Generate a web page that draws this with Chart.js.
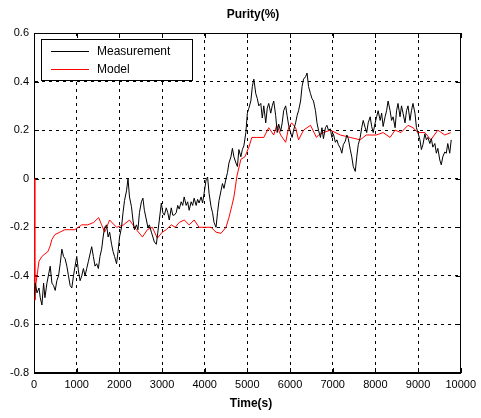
<!DOCTYPE html>
<html>
<head>
<meta charset="utf-8">
<script src="https://cdn.jsdelivr.net/npm/chart.js@4.4.1/dist/chart.umd.min.js"></script>
<style>
html,body{margin:0;padding:0;background:#fff;}
#wrap{width:481px;height:418px;position:relative;}
</style>
</head>
<body>
<div id="wrap"><canvas id="c" width="481" height="418"></canvas></div>
<script>
// ---- Data ----
const chartTitle = "Purity(%)";
const xTitle = "Time(s)";
const xTicks = [0,1000,2000,3000,4000,5000,6000,7000,8000,9000,10000];
const yTicks = [-0.8,-0.6,-0.4,-0.2,0,0.2,0.4,0.6];
const yTickLabels = ["-0.8","-0.6","-0.4","-0.2","0","0.2","0.4","0.6"];

const measTime = [0,30,70,117,147,186,225,256,303,380,420,458,497,536,575,614,653,692,730,770,808,847,886,925,963,1002,1041,1080,1119,1158,1197,1235,1275,1313,1352,1391,1430,1469,1508,1546,
1585,1620,1655,1700,1737,1772,1818,1853,1888,1935,1970,2005,2051,2086,2121,2168,2203,2238,2284,2319,2354,2401,2436,2471,2517,2552,2587,2634,2669,2704,2751,2786,2820,2867,2902,2937,2984,3019,3054,3100,3135,3170,3217,3252,3287,
3333,3368,3403,3450,3485,3520,3566,3601,3636,3683,3718,3753,3800,3834,3869,3916,3951,3986,4033,4068,4103,4149,4184,4219,4266,4301,4336,4382,4417,4452,4499,4534,4569,4615,4650,4685,4732,4767,4802,4848,4883,4918,
4965,5000,5035,5082,5117,5152,5198,5233,5268,5315,5350,5385,5431,5466,5501,5548,5583,5618,5664,5699,5734,5781,5816,5851,5898,5932,5967,6014,6049,6084,6131,6166,6200,6247,6282,6317,6364,6399,6434,6480,6515,6550,6597,6632,
6667,6713,6748,6783,6830,6865,6900,6946,6981,7016,7063,7098,7133,7179,7214,7249,7296,7331,7366,7412,7447,7482,7529,7564,7599,7645,7680,7715,7762,7797,7832,7879,7914,7949,7995,8030,8065,8112,8147,8182,8228,8263,8298,8345,8380,
8415,8462,8497,8531,8578,8613,8648,8695,8730,8765,8811,8846,8881,8928,8963,8998,9044,9079,9114,9161,9196,9231,9277,9312,9347,9394,9429,9464,9510,9545,9580,9627,9662,9697,9743,9778];
const measValue = [-0.50,-0.43,-0.47,-0.45,-0.49,-0.52,-0.43,-0.49,-0.43,-0.36,-0.43,-0.44,-0.46,-0.42,-0.40,-0.35,-0.29,-0.32,-0.33,-0.36,-0.40,-0.44,-0.45,-0.40,-0.36,-0.32,-0.38,-0.42,-0.40,-0.37,-0.40,-0.37,-0.34,-0.31,-0.28,-0.32,-0.36,-0.35,-0.37,-0.32,
-0.29,-0.24,-0.20,-0.19,-0.24,-0.22,-0.27,-0.30,-0.32,-0.35,-0.30,-0.24,-0.20,-0.14,-0.09,-0.05,0.00,-0.075,-0.115,-0.17,-0.21,-0.19,-0.21,-0.14,-0.095,-0.08,-0.13,-0.17,-0.20,-0.19,-0.22,-0.24,-0.26,-0.27,-0.22,-0.17,-0.10,-0.14,-0.15,-0.12,-0.14,-0.17,-0.12,-0.15,-0.15,
-0.14,-0.11,-0.125,-0.095,-0.11,-0.075,-0.11,-0.095,-0.13,-0.095,-0.11,-0.08,-0.11,-0.085,-0.10,-0.075,-0.10,-0.06,-0.005,0.007,-0.06,-0.115,-0.14,-0.18,-0.20,-0.14,-0.09,-0.05,-0.02,-0.04,0.00,0.025,0.065,0.09,0.125,0.09,0.065,0.05,0.12,0.09,0.12,0.135,
0.19,0.27,0.29,0.32,0.38,0.41,0.35,0.33,0.30,0.31,0.25,0.30,0.23,0.29,0.31,0.27,0.30,0.32,0.26,0.19,0.225,0.195,0.23,0.28,0.30,0.26,0.22,0.19,0.17,0.20,0.23,0.26,0.28,0.32,0.38,0.41,0.42,0.435,0.38,0.35,0.33,0.32,0.28,0.23,
0.20,0.17,0.21,0.165,0.21,0.22,0.20,0.205,0.17,0.185,0.15,0.16,0.14,0.126,0.105,0.14,0.155,0.18,0.165,0.12,0.09,0.05,0.03,0.09,0.14,0.17,0.21,0.24,0.21,0.19,0.23,0.255,0.215,0.19,0.23,0.255,0.28,0.24,0.27,0.215,0.255,0.28,0.32,0.28,0.24,
0.255,0.21,0.28,0.31,0.255,0.30,0.27,0.23,0.28,0.30,0.24,0.28,0.31,0.27,0.21,0.19,0.16,0.12,0.14,0.185,0.16,0.17,0.145,0.165,0.13,0.145,0.105,0.125,0.077,0.057,0.09,0.11,0.105,0.145,0.105,0.16];

const modelTime = [0,20,47,117,186,256,326,373,420,490,606,723,839,956,1119,1259,1399,1515,1585,1655,1772,1935,2098,2238,2401,2541,2657,2774,2890,3007,3100,3217,3310,3403,3520,3636,3753,3869,4009,4149,4266,4382,4499,4569,4639,4685,4755,4848,4942,5035,5105,5221,5385,5501,5618,5688,5781,5898,5967,6037,6131,6200,6317,6480,6620,6667,6783,6946,7179,7412,7645,7786,8019,8182,8345,8462,8601,8765,8881,8998,9161,9300,9464,9627,9767];
const modelValue = [0.0,-0.50,-0.43,-0.34,-0.32,-0.31,-0.30,-0.28,-0.25,-0.23,-0.22,-0.21,-0.21,-0.21,-0.19,-0.19,-0.18,-0.16,-0.19,-0.22,-0.17,-0.20,-0.19,-0.17,-0.21,-0.24,-0.21,-0.20,-0.245,-0.22,-0.21,-0.19,-0.20,-0.18,-0.17,-0.19,-0.17,-0.20,-0.20,-0.20,-0.22,-0.225,-0.20,-0.16,-0.11,-0.075,0.01,0.08,0.09,0.13,0.17,0.17,0.17,0.21,0.18,0.22,0.18,0.15,0.21,0.23,0.21,0.16,0.20,0.22,0.17,0.18,0.19,0.20,0.18,0.17,0.16,0.18,0.18,0.19,0.17,0.20,0.19,0.22,0.21,0.19,0.19,0.16,0.20,0.18,0.19];

const seriesNames = ["Measurement","Model"];
const seriesColors = ["#000000","#ff0000"];

// ---- Chart ----
const FONT = "'Liberation Sans', Arial, sans-serif";

const framePlugin = {
  id: 'frame',
  beforeDatasetsDraw(chart) {
    const {ctx, chartArea: a, scales} = chart;
    ctx.save();
    ctx.strokeStyle = '#000';
    ctx.lineWidth = 1;
    ctx.setLineDash([]);
    ctx.strokeRect(Math.round(a.left)+0.5, Math.round(a.top)+0.5, Math.round(a.right-a.left)-1, Math.round(a.bottom-a.top)-1);
    const tl = 5;
    ctx.beginPath();
    xTicks.forEach(v => {
      const x = Math.round(scales.x.getPixelForValue(v)) + 0.5;
      ctx.moveTo(x, a.bottom); ctx.lineTo(x, a.bottom - tl);
      ctx.moveTo(x, a.top); ctx.lineTo(x, a.top + tl);
    });
    yTicks.forEach(v => {
      const y = Math.round(scales.y.getPixelForValue(v)) + 0.5;
      ctx.moveTo(a.left, y); ctx.lineTo(a.left + tl, y);
      ctx.moveTo(a.right, y); ctx.lineTo(a.right - tl, y);
    });
    ctx.stroke();
    ctx.restore();
  },
  afterDatasetsDraw(chart) {
    const {ctx, chartArea: a} = chart;
    ctx.save();
    ctx.lineWidth = 1;
    ctx.setLineDash([]);
    // legend box
    const lx = a.left + 7, ly = a.top + 6, lw = 151, lh = 41;
    ctx.fillStyle = '#fff';
    ctx.fillRect(lx, ly, lw, lh);
    ctx.strokeStyle = '#000';
    ctx.strokeRect(lx + 0.5, ly + 0.5, lw, lh);
    ctx.font = "12px " + FONT;
    ctx.textBaseline = 'middle';
    seriesNames.forEach((n, i) => {
      const yy = ly + 11.5 + i * 18;
      ctx.strokeStyle = seriesColors[i];
      ctx.beginPath();
      ctx.moveTo(lx + 10, Math.round(yy) + 0.5);
      ctx.lineTo(lx + 48, Math.round(yy) + 0.5);
      ctx.stroke();
      ctx.fillStyle = '#000';
      ctx.fillText(n, lx + 56, yy + 1);
    });

    // titles
    ctx.fillStyle = '#000';
    ctx.textAlign = 'center';
    ctx.textBaseline = 'middle';
    ctx.font = "bold 12px " + FONT;
    ctx.fillText(chartTitle, 253, 15);
    ctx.fillText(xTitle, 251, 404);
    ctx.restore();
  }
};

new Chart(document.getElementById('c'), {
  type: 'line',
  data: {
    datasets: [
      {
        label: seriesNames[0],
        data: measTime.map((t, i) => ({x: t, y: measValue[i]})),
        borderColor: seriesColors[0],
        borderWidth: 1,
        pointRadius: 0,
        tension: 0,
        fill: false
      },
      {
        label: seriesNames[1],
        data: modelTime.map((t, i) => ({x: t, y: modelValue[i]})),
        borderColor: seriesColors[1],
        borderWidth: 1,
        pointRadius: 0,
        tension: 0,
        fill: false
      }
    ]
  },
  options: {
    responsive: false,
    animation: false,
    devicePixelRatio: 1,
    layout: {padding: {left: 0, right: 18, top: 33, bottom: 0}},
    plugins: {legend: {display: false}, title: {display: false}, tooltip: {enabled: false}},
    scales: {
      x: {
        type: 'linear', min: 0, max: 10000,
        afterBuildTicks: s => { s.ticks = xTicks.map(v => ({value: v})); },
        afterFit: s => { s.height = 45; },
        grid: {color: '#000', lineWidth: 1, tickLength: 0, drawTicks: false},
        border: {display: true, color: '#000', dash: [3, 4]},
        ticks: {color: '#000', font: {family: FONT, size: 11}, padding: 5, maxRotation: 0, autoSkip: false,
          callback: v => String(v)}
      },
      y: {
        type: 'linear', min: -0.8, max: 0.6,
        afterBuildTicks: s => { s.ticks = yTicks.map(v => ({value: v})); },
        afterFit: s => { s.width = 34; },
        grid: {color: '#000', lineWidth: 1, tickLength: 0, drawTicks: false},
        border: {display: true, color: '#000', dash: [3, 4]},
        ticks: {color: '#000', font: {family: FONT, size: 11}, padding: 5, autoSkip: false,
          callback: (v) => { const i = yTicks.findIndex(t => Math.abs(t - v) < 1e-9); return i >= 0 ? yTickLabels[i] : ''; }}
      }
    }
  },
  plugins: [framePlugin]
});
</script>
</body>
</html>
